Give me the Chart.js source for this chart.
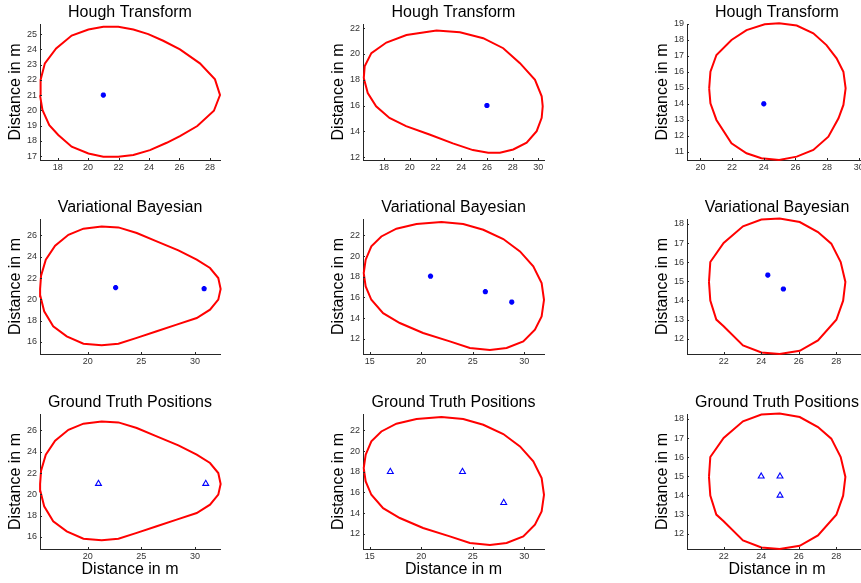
<!DOCTYPE html>
<html>
<head>
<meta charset="utf-8">
<title>Hough Transform / Variational Bayesian / Ground Truth Positions</title>
<script src="https://cdn.jsdelivr.net/npm/chart.js@4/dist/chart.umd.min.js"></script>
<style>
  html, body { margin: 0; padding: 0; background: #fff; width: 861px; height: 583px; overflow: hidden; }
  .panel { position: absolute; }
</style>
</head>
<body>
<script>
// ---- Panel titles and axis label ----
const rowTitles = ['Hough Transform', 'Variational Bayesian', 'Ground Truth Positions'];
const axisLabel = 'Distance in m';

// ---- Boundary outlines (x, y in m) ----
// Scenario A: egg-shaped room (Hough row)
const boundA1x = [16.84,16.88,17.16,17.90,18.92,20.02,21.00,21.98,22.97,23.95,24.93,26.03,27.34,28.33,28.66,28.26,27.17,26.03,25.16,24.06,22.97,21.98,21.00,20.02,18.92,18.04,17.45,17.00,16.84];
const boundA1y = [21.00,22.00,23.08,24.06,24.90,25.30,25.48,25.48,25.30,25.00,24.56,23.99,23.08,22.03,21.00,19.97,18.97,18.31,17.87,17.39,17.07,16.96,16.96,17.17,17.61,18.38,19.03,20.02,21.00];
// Scenario B: skewed oval
const boundB1x = [16.42,16.49,17.01,18.18,19.74,22.08,23.90,25.71,27.27,28.57,29.74,30.26,30.34,30.26,29.87,29.09,28.05,27.01,26.10,24.91,23.35,21.53,19.71,18.42,17.38,16.73,16.42];
const boundB1y = [18.13,19.04,20.07,20.89,21.48,21.82,21.69,21.23,20.45,19.29,18.00,16.72,15.94,15.04,14.01,13.11,12.59,12.34,12.34,12.54,13.06,13.75,14.40,15.04,15.94,16.97,18.13];
// Scenario C: circle
const boundC1x = [20.55,20.63,21.01,21.96,22.91,24.06,24.97,26.08,27.13,27.96,28.60,29.03,29.17,29.03,28.72,28.08,27.13,26.08,24.97,23.85,22.91,21.96,21.01,20.63,20.55];
const boundC1y = [14.97,16.01,17.06,18.00,18.62,18.98,19.04,18.90,18.42,17.68,16.85,16.01,14.97,13.93,13.09,11.94,11.11,10.69,10.48,10.59,10.90,11.53,12.99,14.03,14.97];

// Second and third rows share these outlines
const boundA2x = [15.56,15.65,16.09,16.96,18.20,19.60,21.30,22.86,24.57,26.43,28.45,30.16,31.40,32.17,32.39,32.17,31.40,30.16,28.29,26.43,24.57,22.86,21.30,19.60,18.04,16.78,15.94,15.59,15.56];
const boundA2y = [20.97,22.22,23.72,25.03,26.06,26.63,26.84,26.75,26.22,25.44,24.59,23.72,22.94,22.00,20.97,19.97,19.03,18.25,17.63,17.00,16.38,15.84,15.69,15.84,16.53,17.47,18.88,20.28,20.97];
const boundB2x = [14.42,14.61,15.16,16.13,17.59,19.54,21.96,24.07,26.02,27.96,29.58,30.87,31.68,31.91,31.68,31.03,29.90,28.28,26.66,24.72,22.77,20.18,17.92,16.30,15.16,14.61,14.42];
const boundB2y = [18.35,19.65,20.94,21.90,22.65,23.10,23.29,23.10,22.55,21.65,20.45,19.00,17.39,15.77,14.16,12.87,11.74,11.10,10.90,11.10,11.74,12.55,13.52,14.48,15.77,17.06,18.35];
const boundC2x = [21.22,21.29,22.00,23.03,24.01,24.98,26.05,27.02,27.73,28.23,28.48,28.36,28.00,27.02,26.05,24.98,24.01,23.03,22.00,21.61,21.29,21.22];
const boundC2y = [14.97,16.01,17.01,17.88,18.23,18.28,18.10,17.58,16.97,16.01,14.97,13.99,12.99,11.91,11.37,11.20,11.28,11.65,12.65,13.00,13.99,14.97];

// ---- Source positions ----
const houghAx = [21.0],  houghAy = [21.0];
const houghBx = [26.0],  houghBy = [16.0];
const houghCx = [24.0],  houghCy = [14.0];
const vbAx = [22.6, 30.85],        vbAy = [21.1, 21.0];
const vbBx = [20.9, 26.22, 28.78], vbBy = [18.05, 16.55, 15.55];
const vbCx = [24.35, 25.18],       vbCy = [15.33, 14.6];
const gtAx = [21, 31],         gtAy = [21, 21];
const gtBx = [17, 24, 28],     gtBy = [18, 18, 15];
const gtCx = [24, 25, 25],     gtCy = [15, 15, 14];

// ---- Axis limits and ticks ----
const xLimA1 = [16.84, 28.66], yLimA1 = [16.74, 25.66];
const xLimB1 = [16.36, 30.44], yLimB1 = [11.77, 22.33];
const xLimC1 = [19.15, 30.52], yLimC1 = [10.48, 19.00];
const xLimA2 = [15.55, 32.33], yLimA2 = [14.87, 27.54];
const xLimB2 = [14.35, 31.91], yLimB2 = [10.52, 23.59];
const xLimC2 = [20.05, 29.63], yLimC2 = [11.20, 18.26];

const xTicksA1 = [18, 20, 22, 24, 26, 28],     yTicksA1 = [17, 18, 19, 20, 21, 22, 23, 24, 25];
const xTicksB1 = [18, 20, 22, 24, 26, 28, 30], yTicksB1 = [12, 14, 16, 18, 20, 22];
const xTicksC1 = [20, 22, 24, 26, 28, 30],     yTicksC1 = [11, 12, 13, 14, 15, 16, 17, 18, 19];
const xTicksA2 = [20, 25, 30],                 yTicksA2 = [16, 18, 20, 22, 24, 26];
const xTicksB2 = [15, 20, 25, 30],             yTicksB2 = [12, 14, 16, 18, 20, 22];
const xTicksC2 = [22, 24, 26, 28],             yTicksC2 = [12, 13, 14, 15, 16, 17, 18];

// ---- Layout of the 3x3 grid (plot-area boxes in page pixels) ----
const colLeft = [40, 363.3, 687.3];
const colWidth = [180, 180.7, 180];
const rowTop = [24, 219.3, 414.3];
const rowHeight = [136, 135, 135];
const MARGIN_L = 40, MARGIN_T = 24;

const FONT = "'Liberation Sans', Arial, Helvetica, sans-serif";

function toPts(xs, ys) { return xs.map((x, i) => ({ x: x, y: ys[i] })); }

const panels = [
  { r: 0, c: 0, bx: boundA1x, by: boundA1y, px: houghAx, py: houghAy, mark: 'star', xl: xLimA1, yl: yLimA1, xt: xTicksA1, yt: yTicksA1 },
  { r: 0, c: 1, bx: boundB1x, by: boundB1y, px: houghBx, py: houghBy, mark: 'star', xl: xLimB1, yl: yLimB1, xt: xTicksB1, yt: yTicksB1 },
  { r: 0, c: 2, bx: boundC1x, by: boundC1y, px: houghCx, py: houghCy, mark: 'star', xl: xLimC1, yl: yLimC1, xt: xTicksC1, yt: yTicksC1 },
  { r: 1, c: 0, bx: boundA2x, by: boundA2y, px: vbAx, py: vbAy, mark: 'star', xl: xLimA2, yl: yLimA2, xt: xTicksA2, yt: yTicksA2 },
  { r: 1, c: 1, bx: boundB2x, by: boundB2y, px: vbBx, py: vbBy, mark: 'star', xl: xLimB2, yl: yLimB2, xt: xTicksB2, yt: yTicksB2 },
  { r: 1, c: 2, bx: boundC2x, by: boundC2y, px: vbCx, py: vbCy, mark: 'star', xl: xLimC2, yl: yLimC2, xt: xTicksC2, yt: yTicksC2 },
  { r: 2, c: 0, bx: boundA2x, by: boundA2y, px: gtAx, py: gtAy, mark: 'triangle', xl: xLimA2, yl: yLimA2, xt: xTicksA2, yt: yTicksA2 },
  { r: 2, c: 1, bx: boundB2x, by: boundB2y, px: gtBx, py: gtBy, mark: 'triangle', xl: xLimB2, yl: yLimB2, xt: xTicksB2, yt: yTicksB2 },
  { r: 2, c: 2, bx: boundC2x, by: boundC2y, px: gtCx, py: gtCy, mark: 'triangle', xl: xLimC2, yl: yLimC2, xt: xTicksC2, yt: yTicksC2 }
];

// Short inward tick marks along the axes, like the original plotting tool
const innerTicks = {
  id: 'innerTicks',
  afterDraw(chart) {
    const { ctx, chartArea: a, scales: { x, y } } = chart;
    ctx.save();
    ctx.strokeStyle = '#262626';
    ctx.lineWidth = 1;
    ctx.beginPath();
    x.ticks.forEach(t => { const px = Math.round(x.getPixelForValue(t.value)) + 0.5; ctx.moveTo(px, a.bottom); ctx.lineTo(px, a.bottom - 2); });
    y.ticks.forEach(t => { const py = Math.round(y.getPixelForValue(t.value)) + 0.5; ctx.moveTo(a.left, py); ctx.lineTo(a.left + 2, py); });
    ctx.stroke();
    ctx.restore();
  }
};

panels.forEach(p => {
  const w = colWidth[p.c], h = rowHeight[p.r];
  const bottomMargin = p.r === 2 ? 34 : 14;
  const cw = MARGIN_L + w + MARGIN_L;
  const chh = MARGIN_T + h + bottomMargin;
  const cv = document.createElement('canvas');
  cv.className = 'panel';
  cv.width = Math.round(cw); cv.height = Math.round(chh);
  cv.style.width = Math.round(cw) + 'px'; cv.style.height = Math.round(chh) + 'px';
  cv.style.left = (colLeft[p.c] - MARGIN_L) + 'px';
  cv.style.top = (rowTop[p.r] - MARGIN_T) + 'px';
  document.body.appendChild(cv);

  const marker = p.mark === 'star'
    ? { pointStyle: 'star', pointRadius: 2.6, borderWidth: 1.8, borderColor: '#0000ff', backgroundColor: '#0000ff' }
    : { pointStyle: 'triangle', pointRadius: 3.4, borderWidth: 1.1, borderColor: '#0000ff', backgroundColor: 'rgba(0,0,0,0)' };

  new Chart(cv, {
    type: 'scatter',
    data: {
      datasets: [
        { data: toPts(p.bx, p.by), showLine: true, borderColor: '#ff0000', borderWidth: 2, pointRadius: 0, tension: 0, clip: false },
        Object.assign({ data: toPts(p.px, p.py), showLine: false, clip: false }, marker)
      ]
    },
    options: {
      responsive: false,
      animation: false,
      devicePixelRatio: 1,
      layout: { padding: { left: 0, top: 0, bottom: 0, right: MARGIN_L } },
      plugins: {
        legend: { display: false },
        tooltip: { enabled: false },
        title: {
          display: true, text: rowTitles[p.r], color: '#000',
          fullSize: false,
          font: { family: FONT, size: 16, weight: 'normal', lineHeight: 1.2 },
          padding: { top: 2.6, bottom: 2.2 }
        }
      },
      scales: {
        x: {
          type: 'linear', min: p.xl[0], max: p.xl[1],
          afterBuildTicks: s => { s.ticks = p.xt.map(v => ({ value: v })); },
          afterFit: s => { s.height = bottomMargin; },
          grid: { display: false, drawTicks: false },
          border: { display: true, color: '#262626', width: 1 },
          ticks: { color: '#333', font: { family: FONT, size: 9 }, padding: 2, maxRotation: 0, autoSkip: false },
          title: {
            display: p.r === 2, text: axisLabel, color: '#000',
            font: { family: FONT, size: 16, lineHeight: 1.2 }, padding: { top: 0, bottom: 3.5 }
          }
        },
        y: {
          type: 'linear', min: p.yl[0], max: p.yl[1],
          afterBuildTicks: s => { s.ticks = p.yt.map(v => ({ value: v })); },
          afterFit: s => { s.width = MARGIN_L; },
          grid: { display: false, drawTicks: false },
          border: { display: true, color: '#262626', width: 1 },
          ticks: { color: '#333', font: { family: FONT, size: 9 }, padding: 3, autoSkip: false },
          title: {
            display: true, text: axisLabel, color: '#000',
            font: { family: FONT, size: 16, lineHeight: 1.2 }, padding: { top: 6.4, bottom: 0 }
          }
        }
      }
    },
    plugins: [innerTicks]
  });
});
</script>
</body>
</html>
